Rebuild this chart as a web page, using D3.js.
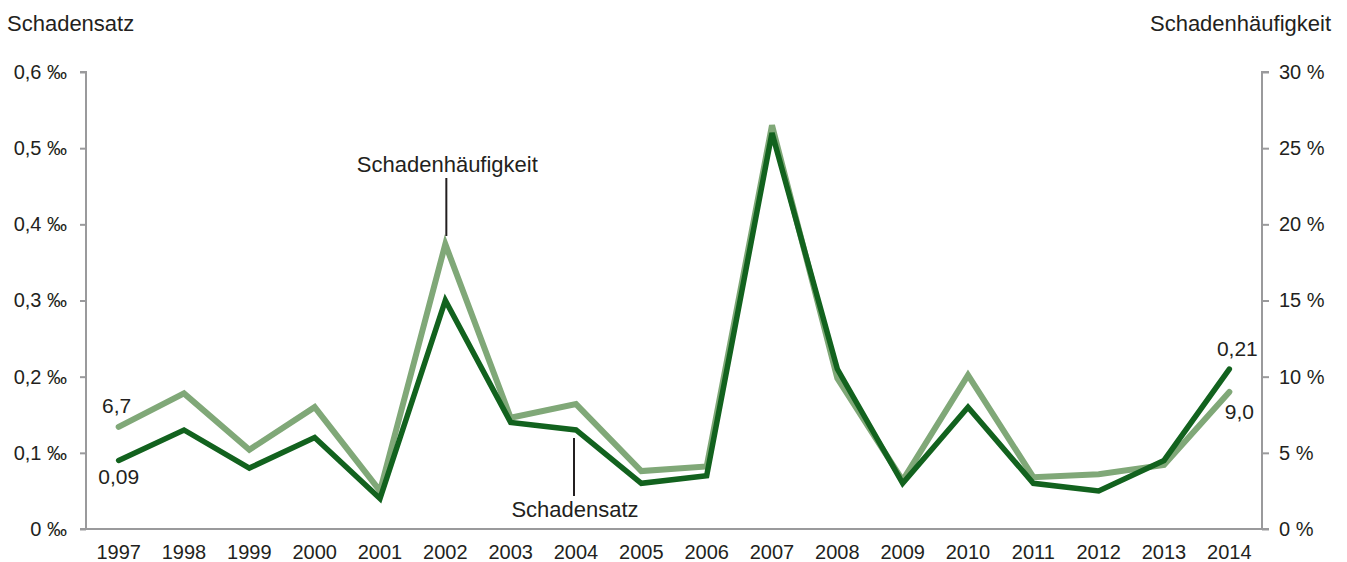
<!DOCTYPE html>
<html><head><meta charset="utf-8">
<script src="https://cdn.jsdelivr.net/npm/d3@7"></script>
<style>body{margin:0;background:#fff}svg{font-family:"Liberation Sans",Arial,sans-serif}</style>
</head><body><svg id="c" width="1347" height="562"></svg>
<script>
const years = ["1997","1998","1999","2000","2001","2002","2003","2004","2005","2006","2007","2008","2009","2010","2011","2012","2013","2014"];
const schadensatz = [0.09,0.13,0.08,0.12,0.04,0.30,0.14,0.13,0.06,0.07,0.52,0.21,0.06,0.16,0.06,0.05,0.09,0.21];
const haeufigkeit = [6.7,8.9,5.2,8.0,2.5,18.7,7.3,8.2,3.8,4.1,26.5,9.9,3.2,10.1,3.4,3.6,4.2,9.0];
const leftTicks = [0,0.1,0.2,0.3,0.4,0.5,0.6];
const rightTicks = [0,5,10,15,20,25,30];

const svg = d3.select("#c");
const L=86, R=1262, T=72, B=529;
const x = d3.scaleBand().domain(years).range([L,R]);
const yL = d3.scaleLinear().domain([0,0.6]).range([B,T]);
const yR = d3.scaleLinear().domain([0,30]).range([B,T]);
const cx = d => x(d)+x.bandwidth()/2;
const fmt = (v,d) => v.toFixed(d).replace(".",",");
const axisCol="#9a9a9c", txt="#231f20";

// left axis
const gl = svg.append("g").attr("transform",`translate(${L},0)`)
  .call(d3.axisLeft(yL).tickValues(leftTicks).tickSize(6).tickPadding(13).tickFormat(v=>fmt(v,v===0?0:1)+" ‰"));
// right axis
const gr = svg.append("g").attr("transform",`translate(${R},0)`)
  .call(d3.axisRight(yR).tickValues(rightTicks).tickSize(7).tickPadding(10).tickFormat(v=>v+" %"));
// bottom axis
const gb = svg.append("g").attr("transform",`translate(0,${B})`)
  .call(d3.axisBottom(x).tickSize(0).tickPadding(16));
[gl,gr,gb].forEach(g=>{
  g.select(".domain").attr("stroke",axisCol).attr("stroke-width",2);
  g.selectAll(".tick line").attr("stroke",axisCol).attr("stroke-width",2);
  g.selectAll("text").attr("fill",txt).attr("font-size",20).attr("font-family","Liberation Sans, Arial, sans-serif");
});
gl.select(".domain").attr("d",`M-6,${T}H0V${B}`);
gr.select(".domain").attr("d",`M7,${T}H0V${B}`);
gb.select(".domain").attr("d",`M${L-6},0H${R+7}`);
gb.selectAll("text").attr("dy","0.71em");

// axis titles
svg.append("text").attr("x",7).attr("y",31).attr("font-size",22).attr("fill",txt).text("Schadensatz");
svg.append("text").attr("x",1331).attr("y",31).attr("text-anchor","end").attr("font-size",22).attr("fill",txt).text("Schadenhäufigkeit");

// lines
const lineL = d3.line().x((d,i)=>cx(years[i])).y(d=>yL(d));
const lineR = d3.line().x((d,i)=>cx(years[i])).y(d=>yR(d));
svg.append("path").datum(haeufigkeit).attr("d",lineR).attr("fill","none")
  .attr("stroke","#80a878").attr("stroke-width",6).attr("stroke-linejoin","miter").attr("stroke-linecap","round");
svg.append("path").datum(schadensatz).attr("d",lineL).attr("fill","none")
  .attr("stroke","#12621e").attr("stroke-width",5.5).attr("stroke-linejoin","miter").attr("stroke-linecap","round");

// value labels
const lab = (t,xx,yy,fs)=>svg.append("text").attr("x",xx).attr("y",yy).attr("text-anchor","middle").attr("font-size",fs||21).attr("fill",txt).text(t);
lab(fmt(haeufigkeit[0],1), cx("1997")-2, yR(haeufigkeit[0])-14);
lab(fmt(schadensatz[0],2), cx("1997"), yL(schadensatz[0])+24);
lab(fmt(schadensatz[17],2), cx("2014")+8, yL(schadensatz[17])-13);
lab(fmt(haeufigkeit[17],1), cx("2014")+10, yR(haeufigkeit[17])+27);

// annotations
const a1x = cx("2002")+1, a2x = cx("2004")-2;
svg.append("line").attr("x1",a1x).attr("x2",a1x).attr("y1",178).attr("y2",236).attr("stroke",txt).attr("stroke-width",2);
lab("Schadenhäufigkeit", a1x+1, 172, 22);
svg.append("line").attr("x1",a2x).attr("x2",a2x).attr("y1",438).attr("y2",496).attr("stroke",txt).attr("stroke-width",2);
lab("Schadensatz", a2x+1, 517, 22);
</script></body></html>
